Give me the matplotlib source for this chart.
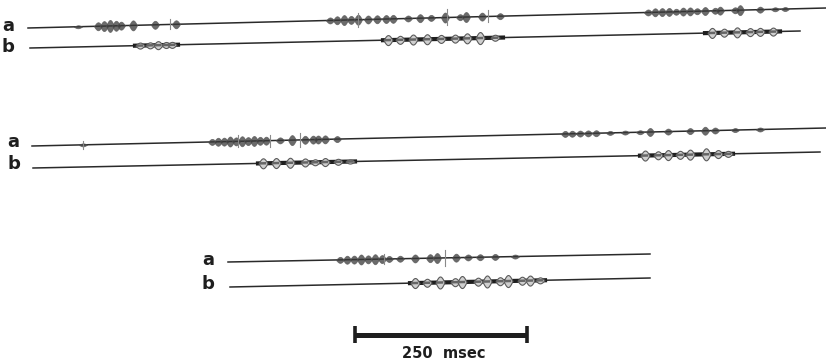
import numpy as np
import matplotlib
matplotlib.use("Agg")
import matplotlib.pyplot as plt

# baselines: x0, y0, x1, y1 in picture pixels
line_1a = [28, 28, 826, 8]
line_1b = [30, 48, 800, 31]
line_2a = [32, 146, 826, 128]
line_2b = [33, 168, 820, 152]
line_3a = [228, 262, 650, 254]
line_3b = [230, 287, 650, 278]

# trace a: burst pulse centres (px) and half heights (px)
pulse_1a_x = [78, 98, 104, 110, 116, 121, 133, 155, 176,
              330, 337, 344, 351, 358, 368, 377, 386, 393, 408, 420, 431, 445, 460, 466, 482, 500,
              648, 655, 662, 669, 676, 683, 690, 697, 705, 715, 720, 735, 740, 760, 775, 785]
pulse_1a_amp = [1.5, 4, 5, 6, 5, 4, 5, 4, 4,
                3, 4, 5, 4, 5, 4, 4, 4, 4, 3, 4, 3, 5, 3, 5, 4, 3,
                3, 4, 4, 4, 3, 4, 4, 3, 4, 3, 4, 3, 5, 3, 2, 2]
spike_1a_x = [170, 358, 447, 488]
spike_1a_h = [5, 7, 8, 6]

pulse_2a_x = [83, 212, 218, 224, 230, 236, 242, 248, 254, 260, 266, 280, 292, 305, 313, 318, 325, 337,
              565, 572, 580, 588, 596, 610, 625, 640, 650, 668, 690, 705, 715, 735, 760]
pulse_2a_amp = [1.5, 3, 4, 4, 5, 4, 5, 4, 5, 4, 4, 3, 5, 4, 4, 4, 4, 3,
                3, 3, 3, 3, 3, 2, 2, 2, 4, 3, 3, 4, 3, 2, 2]
spike_2a_x = [83, 238, 270, 300]
spike_2a_h = [4, 6, 6, 7]

pulse_3a_x = [340, 347, 354, 361, 368, 375, 382, 389, 400, 415, 430, 437, 456, 468, 480, 495, 515]
pulse_3a_amp = [3, 4, 4, 5, 4, 5, 4, 3, 3, 4, 4, 5, 4, 3, 3, 3, 2]
spike_3a_x = [384, 445]
spike_3a_h = [5, 8]

# trace b: burst spans and spindle pulses
group_1b = [(135, 178), (383, 503), (705, 780)]
pulse_1b_x = [140, 150, 158, 166, 172,
              388, 400, 413, 427, 441, 455, 467, 480, 495,
              712, 724, 737, 750, 760, 773]
pulse_1b_amp = [3, 3, 4, 3, 3,
                5, 4, 5, 5, 4, 4, 5, 6, 3,
                5, 4, 5, 4, 4, 4]

group_2b = [(258, 355), (640, 733)]
pulse_2b_x = [263, 276, 290, 305, 315, 325, 338, 350,
              645, 658, 668, 680, 690, 706, 718, 728]
pulse_2b_amp = [5, 5, 5, 4, 3, 4, 3, 2,
                5, 4, 5, 4, 5, 6, 4, 3]

group_3b = [(410, 545)]
pulse_3b_x = [415, 427, 440, 455, 462, 478, 487, 500, 508, 522, 530, 540]
pulse_3b_amp = [5, 4, 6, 4, 6, 4, 6, 4, 6, 4, 5, 3]

scale_label = "250  msec"
scale_x = [355, 527]
scale_y = 335

ink = "#1e1e1e"


def base_y(line, x):
    x0, y0, x1, y1 = line
    return y0 + (y1 - y0) * (np.asarray(x, dtype=float) - x0) / (x1 - x0)


def spindle(ax, line, xc, amp, width, fc, ec, lw, alpha=1.0):
    t = np.linspace(0, 1, 30)
    px = xc - width / 2 + width * t
    env = amp * np.sin(np.pi * t)
    yb = base_y(line, px)
    ax.fill_between(px, yb - env, yb + env, facecolor=fc, edgecolor=ec, lw=lw, alpha=alpha, zorder=3)


def trace_a(ax, line, xs, amps, sx, sh):
    ax.plot([line[0], line[2]], [line[1], line[3]], color="#2a2a2a", lw=1.1, zorder=2)
    for x, a in zip(xs, amps):
        spindle(ax, line, x, a, 8, "#3a3a3a", "#555555", 0.6, 0.75)
    for x, h in zip(sx, sh):
        y = base_y(line, x)
        ax.plot([x, x], [y - h, y + h], color="#8a8a8a", lw=0.8, zorder=4)


def trace_b(ax, line, groups, xs, amps):
    ax.plot([line[0], line[2]], [line[1], line[3]], color="#2a2a2a", lw=1.1, zorder=2)
    for g0, g1 in groups:
        ax.plot([g0, g1], base_y(line, [g0, g1]), color=ink, lw=3.0, zorder=2)
    for x, a in zip(xs, amps):
        spindle(ax, line, x, a, 9, "#cfcfcf", "#5a5a5a", 0.8)
        ax.plot([x - 2, x + 2], base_y(line, [x - 2, x + 2]), color="#666666", lw=1.8, zorder=4)


fig = plt.figure(figsize=(8.26, 3.63), dpi=100)
ax = fig.add_axes([0, 0, 1, 1])
ax.set_xlim(0, 826)
ax.set_ylim(363, 0)
ax.axis("off")

trace_a(ax, line_1a, pulse_1a_x, pulse_1a_amp, spike_1a_x, spike_1a_h)
trace_b(ax, line_1b, group_1b, pulse_1b_x, pulse_1b_amp)
trace_a(ax, line_2a, pulse_2a_x, pulse_2a_amp, spike_2a_x, spike_2a_h)
trace_b(ax, line_2b, group_2b, pulse_2b_x, pulse_2b_amp)
trace_a(ax, line_3a, pulse_3a_x, pulse_3a_amp, spike_3a_x, spike_3a_h)
trace_b(ax, line_3b, group_3b, pulse_3b_x, pulse_3b_amp)

# row labels
for lx, ly, s in [(8, 26, "a"), (8, 47, "b"), (13, 142, "a"), (14, 164, "b"), (208, 260, "a"), (208, 284, "b")]:
    ax.text(lx, ly, s, fontsize=13, fontweight="bold", color=ink, ha="center", va="center")

# scale bar
ax.plot(scale_x, [scale_y, scale_y], color=ink, lw=3.6, solid_capstyle="butt")
for x in scale_x:
    ax.plot([x, x], [scale_y - 9, scale_y + 8], color=ink, lw=2.6, solid_capstyle="butt")
ax.text(sum(scale_x) / 2 + 3, 353, scale_label, fontsize=10.5, fontweight="bold", color=ink,
        ha="center", va="center")

fig.savefig("out.png", dpi=100)
